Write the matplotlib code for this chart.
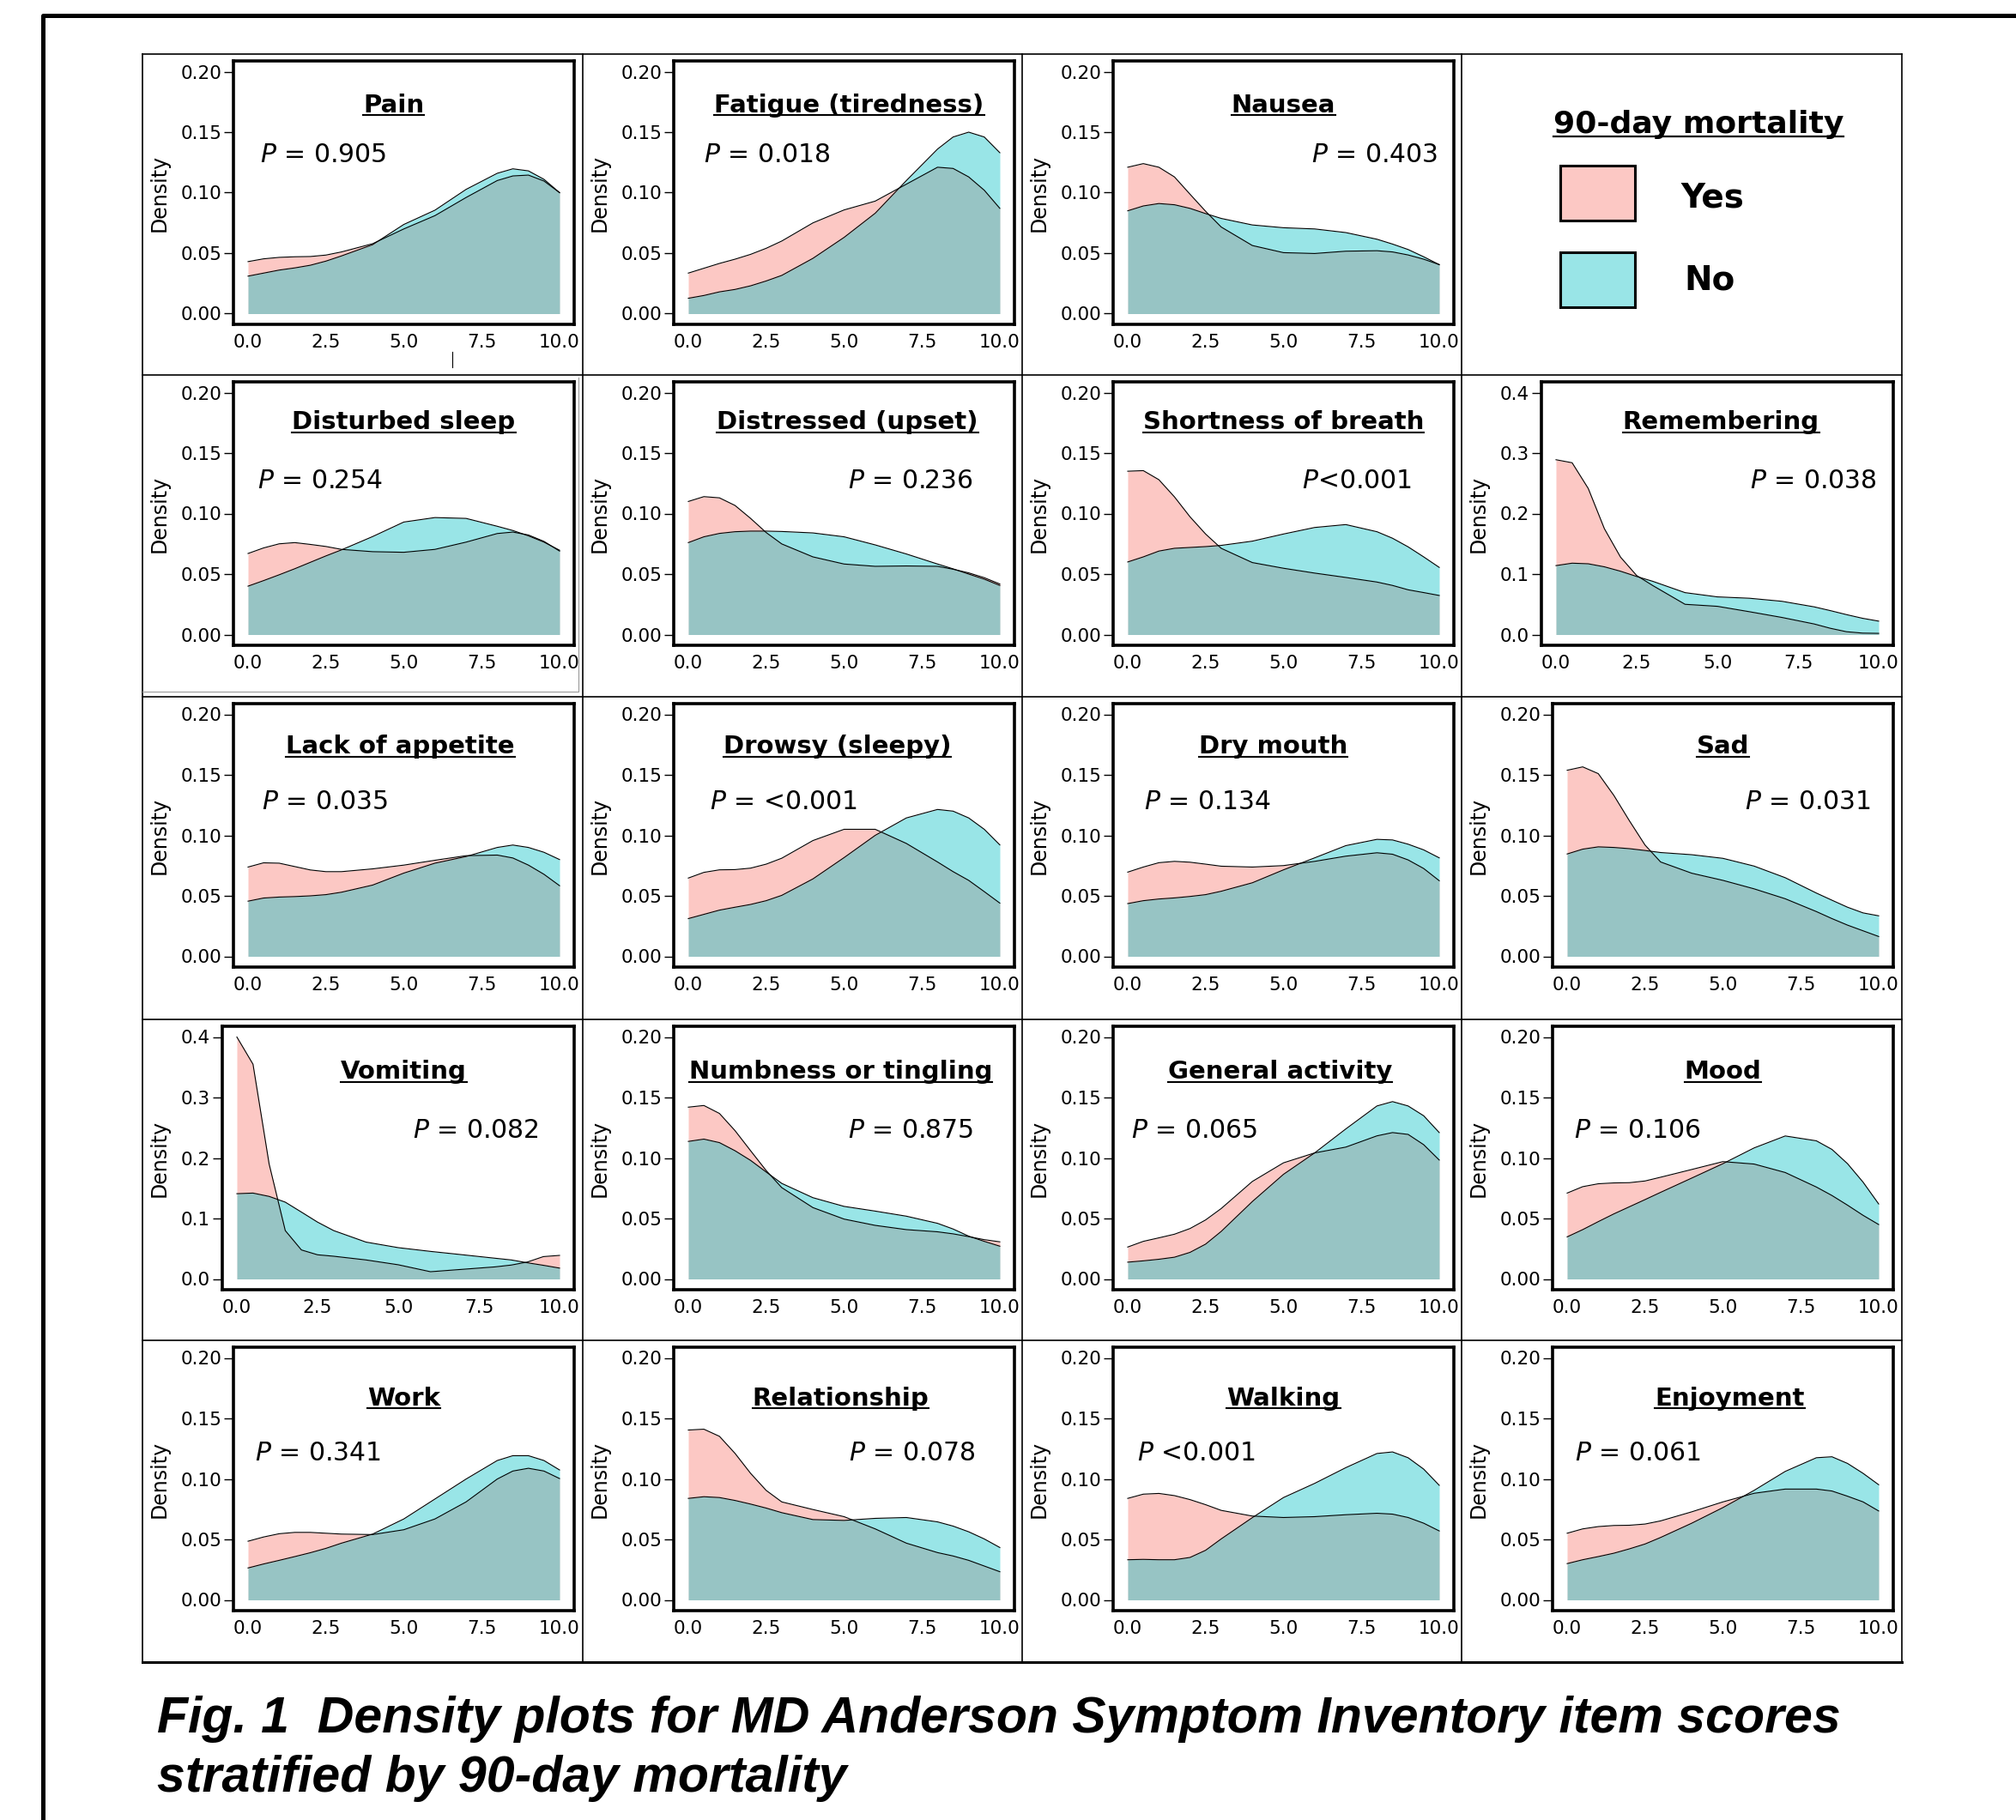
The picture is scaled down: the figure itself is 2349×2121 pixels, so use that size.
import matplotlib.pyplot as plt
import matplotlib.colors as mcolors
from matplotlib.patches import Rectangle

W, H = 2349, 2121

# symptom score grid where the density curves were read
SCORE = [0, 0.5, 1, 1.5, 2, 2.5, 3, 4, 5, 6, 7, 8, 8.5, 9, 9.5, 10]

SYMPTOMS = ['Pain', 'Fatigue (tiredness)', 'Nausea',
            'Disturbed sleep', 'Distressed (upset)', 'Shortness of breath', 'Remembering',
            'Lack of appetite', 'Drowsy (sleepy)', 'Dry mouth', 'Sad',
            'Vomiting', 'Numbness or tingling', 'General activity', 'Mood',
            'Work', 'Relationship', 'Walking', 'Enjoyment']

P_LABELS = ['$P$ = 0.905', '$P$ = 0.018', '$P$ = 0.403',
            '$P$ = 0.254', '$P$ = 0.236', '$P$<0.001', '$P$ = 0.038',
            '$P$ = 0.035', '$P$ = <0.001', '$P$ = 0.134', '$P$ = 0.031',
            '$P$ = 0.082', '$P$ = 0.875', '$P$ = 0.065', '$P$ = 0.106',
            '$P$ = 0.341', '$P$ = 0.078', '$P$ <0.001', '$P$ = 0.061']

# 90-day mortality = Yes
YES = [
    [0.043, 0.0453, 0.0465, 0.047, 0.0472, 0.0484, 0.051, 0.0578, 0.070, 0.081, 0.096, 0.110, 0.1138, 0.1145, 0.1096, 0.100],
    [0.0335, 0.0375, 0.0415, 0.045, 0.049, 0.054, 0.060, 0.075, 0.0857, 0.093, 0.107, 0.121, 0.120, 0.113, 0.102, 0.087],
    [0.121, 0.124, 0.121, 0.113, 0.0987, 0.0846, 0.0716, 0.0563, 0.0504, 0.0497, 0.0516, 0.052, 0.051, 0.0485, 0.045, 0.0405],
    [0.067, 0.0716, 0.075, 0.076, 0.0745, 0.0728, 0.0704, 0.0685, 0.068, 0.0704, 0.0764, 0.0835, 0.0847, 0.0823, 0.077, 0.069],
    [0.110, 0.114, 0.113, 0.1067, 0.096, 0.0843, 0.0749, 0.0642, 0.0583, 0.0564, 0.0567, 0.0564, 0.054, 0.051, 0.047, 0.0418],
    [0.135, 0.1355, 0.128, 0.1138, 0.0973, 0.0831, 0.0713, 0.0595, 0.0548, 0.0508, 0.0472, 0.0434, 0.0406, 0.037, 0.0347, 0.0323],
    [0.289, 0.284, 0.2415, 0.175, 0.128, 0.0976, 0.081, 0.050, 0.0467, 0.0377, 0.0283, 0.0175, 0.0104, 0.0047, 0.0024, 0.002],
    [0.0738, 0.0773, 0.077, 0.0742, 0.0714, 0.070, 0.070, 0.0723, 0.0754, 0.0794, 0.0832, 0.0837, 0.0813, 0.0754, 0.0678, 0.0584],
    [0.0647, 0.0694, 0.0715, 0.0717, 0.0729, 0.0762, 0.0811, 0.0957, 0.105, 0.105, 0.0933, 0.078, 0.070, 0.0628, 0.0535, 0.044],
    [0.0696, 0.0738, 0.0774, 0.0785, 0.0778, 0.0762, 0.0745, 0.0738, 0.075, 0.0785, 0.0828, 0.0856, 0.0844, 0.0797, 0.0726, 0.0625],
    [0.1538, 0.1566, 0.151, 0.133, 0.112, 0.092, 0.078, 0.0687, 0.0628, 0.0558, 0.0476, 0.037, 0.0312, 0.0258, 0.0211, 0.0164],
    [0.400, 0.355, 0.190, 0.080, 0.048, 0.040, 0.0376, 0.0315, 0.0235, 0.012, 0.016, 0.020, 0.023, 0.028, 0.037, 0.039],
    [0.142, 0.1434, 0.1368, 0.1226, 0.106, 0.0896, 0.0755, 0.059, 0.0495, 0.0443, 0.0408, 0.039, 0.0373, 0.035, 0.0325, 0.0307],
    [0.0264, 0.0311, 0.034, 0.037, 0.0417, 0.0488, 0.0582, 0.0806, 0.096, 0.1042, 0.109, 0.1183, 0.121, 0.1195, 0.111, 0.0983],
    [0.071, 0.0763, 0.0787, 0.0794, 0.0796, 0.081, 0.0841, 0.0905, 0.097, 0.095, 0.088, 0.076, 0.069, 0.061, 0.0526, 0.045],
    [0.0485, 0.052, 0.0547, 0.0558, 0.0558, 0.0551, 0.0544, 0.054, 0.058, 0.0669, 0.081, 0.0999, 0.1065, 0.1088, 0.1065, 0.1003],
    [0.1404, 0.1411, 0.1352, 0.1211, 0.1046, 0.0905, 0.081, 0.0747, 0.0688, 0.0587, 0.0469, 0.0391, 0.0363, 0.0327, 0.028, 0.0233],
    [0.0839, 0.0874, 0.088, 0.0862, 0.0829, 0.0787, 0.074, 0.0693, 0.0681, 0.0688, 0.0704, 0.0716, 0.0709, 0.0681, 0.0634, 0.057],
    [0.0551, 0.0587, 0.0606, 0.0615, 0.0617, 0.0627, 0.0653, 0.0728, 0.081, 0.0881, 0.0916, 0.0916, 0.090, 0.0857, 0.081, 0.0735],
]

# 90-day mortality = No
NO = [
    [0.031, 0.0335, 0.036, 0.0378, 0.040, 0.0434, 0.0477, 0.057, 0.0737, 0.0855, 0.1027, 0.116, 0.1197, 0.118, 0.111, 0.100],
    [0.0127, 0.015, 0.018, 0.020, 0.023, 0.027, 0.0316, 0.0457, 0.063, 0.083, 0.110, 0.136, 0.146, 0.150, 0.146, 0.133],
    [0.085, 0.089, 0.091, 0.090, 0.087, 0.0827, 0.0787, 0.0733, 0.071, 0.070, 0.067, 0.0615, 0.0575, 0.053, 0.047, 0.0405],
    [0.040, 0.0446, 0.0494, 0.0544, 0.0597, 0.065, 0.070, 0.081, 0.093, 0.0967, 0.096, 0.0895, 0.086, 0.0816, 0.0764, 0.0697],
    [0.076, 0.0808, 0.0836, 0.085, 0.0855, 0.0855, 0.0852, 0.084, 0.0808, 0.0741, 0.0666, 0.0583, 0.0543, 0.050, 0.0458, 0.0406],
    [0.060, 0.0642, 0.069, 0.0713, 0.072, 0.0727, 0.0737, 0.0772, 0.0831, 0.0885, 0.0909, 0.085, 0.0796, 0.0725, 0.0642, 0.0555],
    [0.114, 0.118, 0.117, 0.112, 0.1047, 0.096, 0.088, 0.0693, 0.0623, 0.060, 0.055, 0.0458, 0.0396, 0.033, 0.0269, 0.0222],
    [0.0456, 0.0482, 0.049, 0.0494, 0.050, 0.051, 0.053, 0.0589, 0.0688, 0.077, 0.0825, 0.090, 0.092, 0.090, 0.086, 0.080],
    [0.0312, 0.0347, 0.0382, 0.0406, 0.0429, 0.046, 0.0504, 0.064, 0.0816, 0.100, 0.1144, 0.1214, 0.120, 0.1144, 0.105, 0.0921],
    [0.0436, 0.046, 0.0474, 0.0483, 0.0495, 0.051, 0.0538, 0.0608, 0.0715, 0.0814, 0.0915, 0.0967, 0.0962, 0.0927, 0.088, 0.0814],
    [0.0846, 0.0886, 0.0905, 0.090, 0.089, 0.0875, 0.0858, 0.084, 0.081, 0.0746, 0.065, 0.0523, 0.0464, 0.0406, 0.0359, 0.0335],
    [0.141, 0.142, 0.1365, 0.127, 0.1106, 0.094, 0.080, 0.061, 0.0518, 0.0456, 0.040, 0.0343, 0.0315, 0.0268, 0.0226, 0.018],
    [0.1137, 0.1156, 0.1127, 0.106, 0.098, 0.0884, 0.079, 0.0672, 0.060, 0.0561, 0.0519, 0.046, 0.0413, 0.0354, 0.0311, 0.0271],
    [0.0139, 0.015, 0.0163, 0.018, 0.022, 0.0288, 0.0393, 0.064, 0.0865, 0.1042, 0.124, 0.143, 0.1466, 0.143, 0.1349, 0.121],
    [0.0348, 0.0408, 0.0474, 0.0538, 0.0597, 0.0656, 0.0716, 0.0834, 0.0953, 0.1083, 0.1182, 0.1142, 0.1071, 0.0953, 0.080, 0.062],
    [0.0264, 0.0297, 0.0327, 0.0358, 0.039, 0.0426, 0.0469, 0.0544, 0.0669, 0.0834, 0.0999, 0.1152, 0.1192, 0.1192, 0.1152, 0.1074],
    [0.0839, 0.0853, 0.0846, 0.0822, 0.0792, 0.0759, 0.0721, 0.0664, 0.0657, 0.0674, 0.0681, 0.0645, 0.061, 0.0563, 0.0504, 0.0433],
    [0.0332, 0.0335, 0.0332, 0.0332, 0.0351, 0.041, 0.0504, 0.068, 0.0846, 0.0963, 0.1093, 0.121, 0.1223, 0.1175, 0.1081, 0.0947],
    [0.030, 0.0332, 0.0358, 0.0386, 0.0422, 0.0462, 0.0516, 0.0634, 0.0763, 0.0905, 0.1062, 0.1175, 0.1183, 0.1128, 0.1046, 0.0952],
]

Y_TOP = [0.2, 0.2, 0.2, 0.2, 0.2, 0.2, 0.4, 0.2, 0.2, 0.2, 0.2,
         0.4, 0.2, 0.2, 0.2, 0.2, 0.2, 0.2, 0.2]

# ---- layout (pixels of the output image) ----
COL_X = [166, 679, 1191, 1703, 2216]
ROW_Y = [63, 437, 812, 1188, 1562, 1937]
SLOTS = [(r, c) for r in range(5) for c in range(4) if (r, c) != (0, 3)]
P_POS = [('left', 0.078), ('left', 0.087), ('right', 0.952),
         ('left', 0.07), ('right', 0.88), ('right', 0.875), ('right', 0.953),
         ('left', 0.083), ('left', 0.105), ('left', 0.09), ('right', 0.935),
         ('right', 0.90), ('right', 0.88), ('left', 0.053), ('left', 0.063),
         ('left', 0.063), ('right', 0.885), ('left', 0.07), ('left', 0.065)]
TITLE_X = [0.47, 0.515, 0.50, 0.50, 0.51, 0.50, 0.51, 0.49, 0.48, 0.47, 0.50,
           0.515, 0.49, 0.49, 0.50, 0.50, 0.49, 0.50, 0.52]
TITLE_BASE = [0.805, 0.82, 0.81, 0.80, 0.78]
P_BASE = [0.617, 0.595, 0.60, 0.575, 0.57]

PINK = '#F8766D'
TEAL = '#00BFC4'

fig = plt.figure(figsize=(W / 100, H / 100), dpi=100)
bg = fig.add_axes([0, 0, 1, 1])
bg.set_xlim(0, W)
bg.set_ylim(H, 0)
bg.axis('off')

# page border and panel grid
bg.plot([50, 50, W + 20], [H + 20, 18, 18], color='black', lw=3.6)
for x in COL_X:
    bg.plot([x, x], [ROW_Y[0], ROW_Y[-1]], color='black', lw=1.2)
for y in ROW_Y:
    bg.plot([COL_X[0], COL_X[-1]], [y, y], color='black', lw=2.2 if y == ROW_Y[-1] else 1.2)
bg.plot([166, 674, 674], [806, 806, 440], color='#999999', lw=0.8)
bg.plot([527, 527], [410, 428], color='black', lw=0.8)


def px_rect(l, t, r, b):
    return [l / W, 1 - b / H, (r - l) / W, (b - t) / H]


titles = []
for i, (r, c) in enumerate(SLOTS):
    top = Y_TOP[i]
    l = COL_X[c] + (93 if top > 0.3 else 106)
    rr = COL_X[c] + 503
    t = ROW_Y[r] + 8
    b = ROW_Y[r] + 315
    fw, fh = rr - l, b - t
    ax = fig.add_axes(px_rect(l, t, rr, b))
    padx = 17 / (fw - 34) * 10
    pady = 12.5 / (fh - 25) * top
    ax.set_xlim(-padx, 10 + padx)
    ax.set_ylim(-pady, top + pady)

    ax.fill_between(SCORE, YES[i], color=PINK, alpha=0.4, lw=0)
    ax.plot(SCORE, YES[i], color='black', lw=0.8)
    ax.fill_between(SCORE, NO[i], color=TEAL, alpha=0.4, lw=0)
    ax.plot(SCORE, NO[i], color='black', lw=0.8)

    for s in ax.spines.values():
        s.set_linewidth(2.6)
    ax.set_xticks([0, 2.5, 5, 7.5, 10])
    ax.set_xticklabels(['0.0', '2.5', '5.0', '7.5', '10.0'])
    if top > 0.3:
        yt = [0, 0.1, 0.2, 0.3, 0.4]
        ax.set_yticks(yt)
        ax.set_yticklabels(['%.1f' % v for v in yt])
    else:
        yt = [0, 0.05, 0.10, 0.15, 0.20]
        ax.set_yticks(yt)
        ax.set_yticklabels(['%.2f' % v for v in yt])
    ax.tick_params(axis='y', direction='out', length=8, width=1, pad=2, labelsize=15.5)
    ax.tick_params(axis='x', length=0, pad=8, labelsize=15.5)

    ax.text((COL_X[c] + 20 - l) / fw, 0.5, 'Density', rotation=90, ha='center', va='center',
            transform=ax.transAxes, fontsize=17,
            family=['Liberation Sans Narrow', 'DejaVu Sans'])
    tt = ax.text(TITLE_X[i], TITLE_BASE[r], SYMPTOMS[i], ha='center', va='baseline',
                 fontsize=21, weight='bold', transform=ax.transAxes)
    titles.append((ax, tt, TITLE_BASE[r], fh))
    ha, px = P_POS[i]
    ax.text(px, P_BASE[r], P_LABELS[i], ha=ha, va='baseline', fontsize=21.5,
            transform=ax.transAxes)

# legend cell
bg.add_patch(Rectangle((1818, 193), 87, 64, facecolor=mcolors.to_rgba(PINK, 0.4),
                       edgecolor='black', lw=2.2))
bg.add_patch(Rectangle((1818, 294), 87, 64, facecolor=mcolors.to_rgba(TEAL, 0.4),
                       edgecolor='black', lw=2.2))
bg.text(1958, 242, 'Yes', fontsize=28, weight='bold', va='baseline', ha='left')
bg.text(1962, 338, 'No', fontsize=28, weight='bold', va='baseline', ha='left')
leg_title = bg.text(1979, 155, '90-day mortality', fontsize=26, weight='bold',
                    va='baseline', ha='center')

# caption
cap_font = dict(fontsize=42.5, weight='bold', style='italic',
                family=['Liberation Sans', 'DejaVu Sans'], va='baseline', ha='left')
bg.text(183, 2019, 'Fig. 1  Density plots for MD Anderson Symptom Inventory item scores', **cap_font)
bg.text(183, 2088, 'stratified by 90-day mortality', **cap_font)

# underlines below the bold titles
fig.canvas.draw()
renderer = fig.canvas.get_renderer()
for ax, tt, base, fh in titles:
    bb = tt.get_window_extent(renderer)
    inv = ax.transAxes.inverted()
    x0 = inv.transform((bb.x0, 0))[0]
    x1 = inv.transform((bb.x1, 0))[0]
    yl = base - 3.5 / fh
    ax.plot([x0, x1], [yl, yl], color='black', lw=1.5, transform=ax.transAxes, clip_on=False)
bb = leg_title.get_window_extent(renderer)
inv = bg.transData.inverted()
lx0 = inv.transform((bb.x0, 0))[0]
lx1 = inv.transform((bb.x1, 0))[0]
bg.plot([lx0, lx1], [159, 159], color='black', lw=1.6)

fig.savefig('out.png', dpi=100)
